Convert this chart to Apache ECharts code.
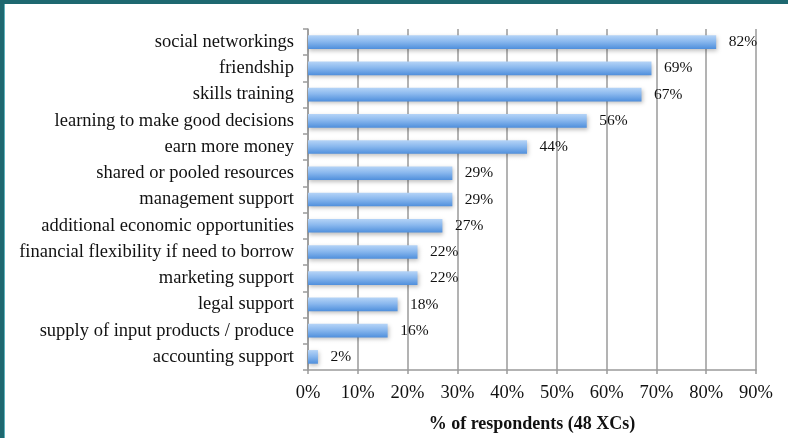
<!DOCTYPE html>
<html>
<head>
<meta charset="utf-8">
<script src="https://cdn.jsdelivr.net/npm/echarts@6/dist/echarts.min.js"></script>
<style>
  html, body { margin: 0; padding: 0; background: #ffffff; }
  #chart { width: 788px; height: 438px; }
</style>
</head>
<body>
<div id="chart"></div>
<script>
// Reasons for joining, listed top to bottom
const categories = [
  'social networkings',
  'friendship',
  'skills training',
  'learning to make good decisions',
  'earn more money',
  'shared or pooled resources',
  'management support',
  'additional economic opportunities',
  'financial flexibility if need to borrow',
  'marketing support',
  'legal support',
  'supply of input products / produce',
  'accounting support'
];
// Share of respondents (%) for each reason
const values = [82, 69, 67, 56, 44, 29, 29, 27, 22, 22, 18, 16, 2];
const axisTitle = '% of respondents (48 XCs)';

const serif = '"Liberation Serif", "DejaVu Serif", serif';
const chart = echarts.init(document.getElementById('chart'));

chart.setOption({
  animation: false,
  backgroundColor: '#ffffff',
  graphic: [
    { type: 'rect', shape: { x: 0, y: 0, width: 788, height: 4 }, style: { fill: '#1e6870' } },
    { type: 'rect', shape: { x: 0, y: 0, width: 4, height: 438 }, style: { fill: '#1e6870' } },
    { type: 'rect', shape: { x: 4, y: 4, width: 1, height: 434 }, style: { fill: '#5fb3bd' } }
  ],
  grid: { left: 308, right: 32, top: 29, bottom: 68, containLabel: false },
  xAxis: {
    type: 'value',
    min: 0,
    max: 90,
    interval: 10,
    position: 'bottom',
    axisLine: { show: true, lineStyle: { color: '#9a9a9a', width: 1.5 } },
    axisTick: { show: true, length: 4, lineStyle: { color: '#9a9a9a', width: 1.5 } },
    splitLine: { show: true, lineStyle: { color: '#9a9a9a', width: 1.5 } },
    axisLabel: { formatter: '{value}%', color: '#111', fontFamily: serif, fontSize: 18.5, margin: 14 },
    name: axisTitle,
    nameLocation: 'middle',
    nameGap: 45,
    nameTextStyle: { color: '#111', fontFamily: serif, fontSize: 18, fontWeight: 'bold' }
  },
  yAxis: {
    type: 'category',
    data: categories,
    inverse: true,
    axisLine: { show: true, lineStyle: { color: '#9a9a9a', width: 1.5 } },
    axisTick: { show: true, length: 5, lineStyle: { color: '#9a9a9a', width: 1.5 } },
    axisLabel: { color: '#111', fontFamily: serif, fontSize: 18.5, margin: 14 }
  },
  series: [{
    type: 'bar',
    data: values,
    barCategoryGap: '48%',
    itemStyle: {
      color: new echarts.graphic.LinearGradient(0, 0, 0, 1, [
        { offset: 0, color: '#b5d4f7' },
        { offset: 0.45, color: '#8ab8ee' },
        { offset: 1, color: '#4f8fdc' }
      ]),
      shadowColor: 'rgba(0,0,0,0.25)',
      shadowBlur: 4,
      shadowOffsetX: 1,
      shadowOffsetY: 2
    },
    label: {
      show: true,
      position: 'right',
      distance: 12.5,
      formatter: '{c}%',
      color: '#111',
      fontFamily: serif,
      fontSize: 15.5
    }
  }]
});
</script>
</body>
</html>
